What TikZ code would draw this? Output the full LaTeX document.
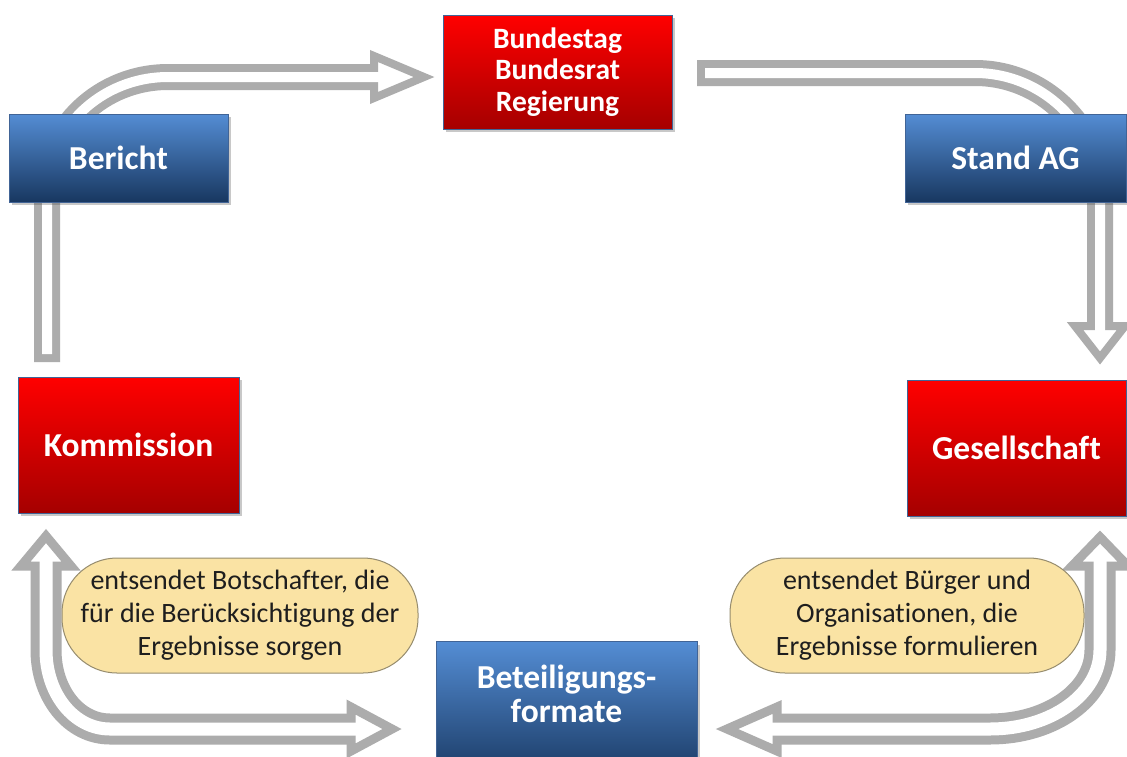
\documentclass[tikz,border=0pt]{standalone}
\usepackage{fontspec}
\setmainfont{Carlito}[Ligatures=NoCommon]
\usetikzlibrary{shadows}
\definecolor{agray}{RGB}{172,172,172}
\definecolor{redtop}{RGB}{255,0,0}
\definecolor{redbot}{RGB}{165,0,0}
\definecolor{bluetop}{RGB}{84,141,212}
\definecolor{bluebot}{RGB}{24,55,96}
\definecolor{boxborder}{RGB}{65,100,150}
\definecolor{ellfill}{RGB}{250,227,164}
\definecolor{ellborder}{RGB}{150,140,110}
\definecolor{elltext}{RGB}{30,30,30}
\tikzset{
  boxbase/.style={draw=boxborder, line width=1pt,
    drop shadow={shadow xshift=3pt, shadow yshift=-3pt, opacity=0.3, fill=black!70},
    text=white, font=\bfseries\fontsize{33.5}{35}\selectfont, align=center, inner sep=0pt},
  redbox/.style={boxbase, top color=redtop, bottom color=redbot},
  bluebox/.style={boxbase, top color=bluetop, bottom color=bluebot},
  boxtext/.style={text=white, font=\bfseries\fontsize{33.5}{34}\selectfont, align=center, inner sep=0pt},
  note/.style={draw=ellborder, line width=1pt, fill=ellfill, rounded corners=55pt,
    text=elltext, font=\frenchspacing\fontsize{28}{33}\selectfont, align=center, inner sep=0pt},
  ashaft/.style={draw=agray, line width=#1},
  acore/.style={draw=white, line width=#1},
  ahead/.style={fill=white, draw=agray, line width=#1, line join=miter},
}
\begin{document}
\begin{tikzpicture}[x=1pt,y=-1pt]
\useasboundingbox (0,0) rectangle (1127,756);
\clip (0,0) rectangle (1127,756);
\fill[white] (0,0) rectangle (1127,756);

% ---- named points of the arrows
\coordinate (a0) at (47,362);
\coordinate (a0i) at (47,354);
\coordinate (a1) at (47,192);
\coordinate (a2) at (168,77);
\coordinate (a3) at (374,77);
\coordinate (a3i) at (386,77);
\coordinate (atip) at (424,77);

\coordinate (b0) at (697,73);
\coordinate (b0i) at (705,73);
\coordinate (b1) at (975,73);
\coordinate (b2) at (1100,198);
\coordinate (b3) at (1100,326);
\coordinate (b3i) at (1100,336);
\coordinate (btip) at (1100,358);

\coordinate (c0) at (46,566);
\coordinate (c0i) at (46,556);
\coordinate (c1) at (46,650);
\coordinate (c2) at (110,729);
\coordinate (c3) at (351,729);
\coordinate (c3i) at (363,729);
\coordinate (ctipu) at (46,536);
\coordinate (ctipr) at (392,729);

\coordinate (d0) at (777,729);
\coordinate (d0i) at (765,729);
\coordinate (d1) at (990,729);
\coordinate (d2) at (1100,650);
\coordinate (d3) at (1100,566);
\coordinate (d3i) at (1100,556);
\coordinate (dtipl) at (727,729);
\coordinate (dtipu) at (1100,537);

% ---- shafts (outline)
\draw[ashaft=26] (a0) -- (a1) .. controls (47,128.5) and (101.5,77) .. (a2) -- (a3);
\draw[ashaft=26] (b0) -- (b1) .. controls (1044,73) and (1100,129) .. (b2) -- (b3);
\draw[ashaft=31] (c0) -- (c1) .. controls (46,694) and (74,729) .. (c2) -- (c3);
\draw[ashaft=31] (d0) -- (d1) .. controls (1051,729) and (1100,694) .. (d2) -- (d3);

% ---- heads
\filldraw[ahead=8] (374,56) -- (atip) -- (374,98) -- cycle;
\filldraw[ahead=8] (1075,326) -- (btip) -- (1125,326) -- cycle;
\filldraw[ahead=9] (21,566) -- (ctipu) -- (71,566) -- cycle;
\filldraw[ahead=9] (351,707) -- (ctipr) -- (351,751) -- cycle;
\filldraw[ahead=9] (777,707) -- (dtipl) -- (777,751) -- cycle;
\filldraw[ahead=9] (1072,566) -- (dtipu) -- (1128,566) -- cycle;

% ---- shaft cores (white)
\draw[acore=10] (a0i) -- (a1) .. controls (47,128.5) and (101.5,77) .. (a2) -- (a3i);
\draw[acore=10] (b0i) -- (b1) .. controls (1044,73) and (1100,129) .. (b2) -- (b3i);
\draw[acore=13] (c0i) -- (c1) .. controls (46,694) and (74,729) .. (c2) -- (c3i);
\draw[acore=13] (d0i) -- (d1) .. controls (1051,729) and (1100,694) .. (d2) -- (d3i);

% ---- boxes
\node[redbox, minimum width=229, minimum height=114, font=\bfseries\fontsize{29.5}{31.5}\selectfont] (bund) at (557.5,72) {Bundestag\\Bundesrat\\Regierung};
\node[bluebox, minimum width=219, minimum height=88] (bericht) at (118.5,158) {Bericht};
\node[bluebox, minimum width=221, minimum height=88] (stand) at (1015.5,158) {Stand AG};
\node[redbox, minimum width=221, minimum height=136] (komm) at (128.5,445) {Kommission};
\node[redbox, minimum width=219, minimum height=136] (ges) at (1016.5,448) {Gesellschaft};
\node[bluebox, minimum width=261, minimum height=140, anchor=north] (bet) at (566.5,641) {};
\node[boxtext] (bettext) at (566.5,694) {Beteiligungs-\\formate};

% ---- notes
\node[note, minimum width=356, minimum height=115] (n1) at (240,615.5) {entsendet Botschafter, die\\für die Berücksichtigung der\\Ergebnisse sorgen};
\node[note, minimum width=354, minimum height=115] (n2) at (907,615.5) {entsendet Bürger und\\Organisationen, die\\Ergebnisse formulieren};
\end{tikzpicture}
\end{document}
